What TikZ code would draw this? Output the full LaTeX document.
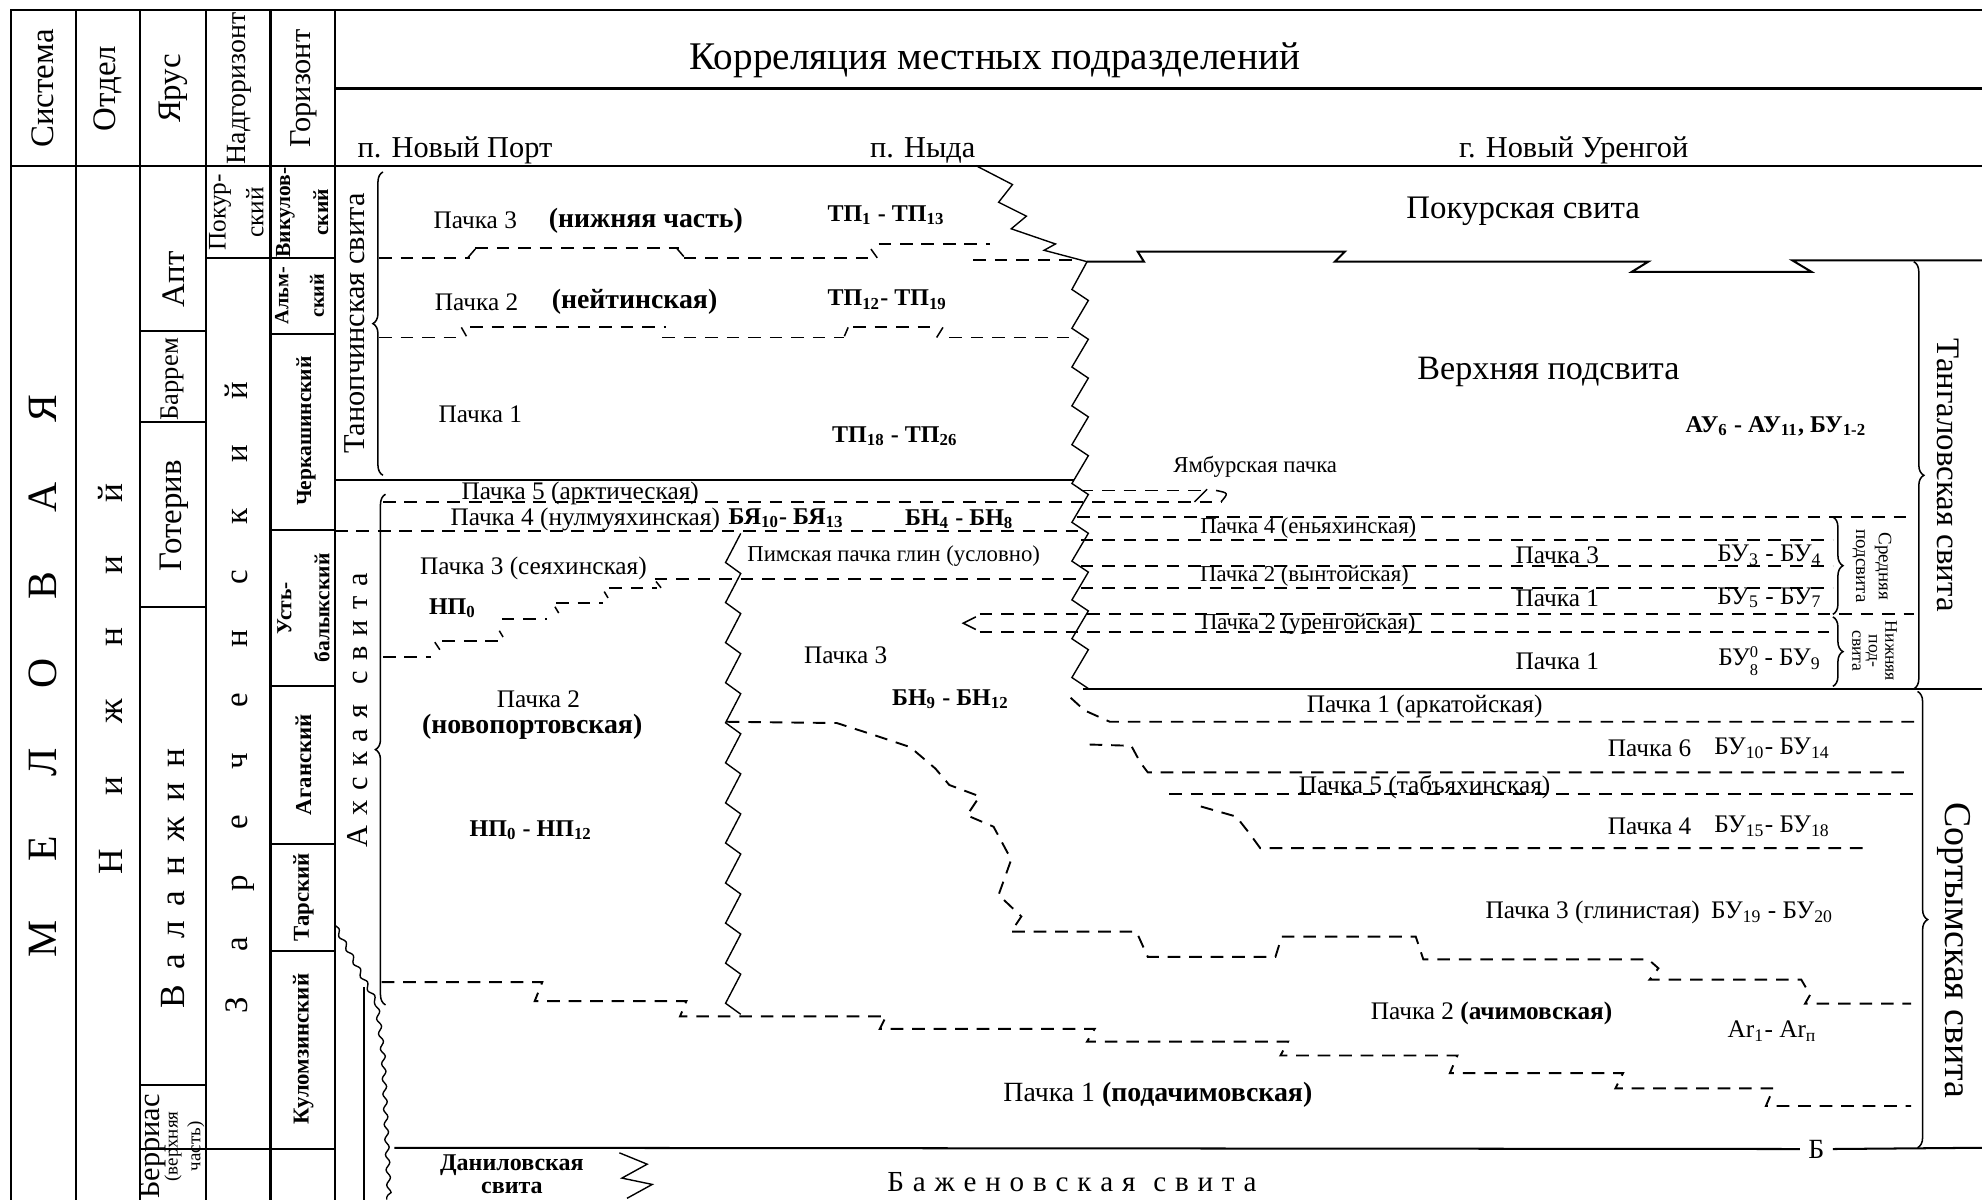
\documentclass[tikz,border=0pt]{standalone}
\usepackage{fontspec}
\setmainfont{Liberation Serif}
\usetikzlibrary{decorations.pathreplacing, decorations.pathmorphing}
\newcommand{\fsz}[2]{\fontsize{#1}{#2}\selectfont}
\newcommand{\lspace}[1]{\spaceskip=#1\relax}
\tikzset{
    chart/.style={x=0.5pt, y=-0.5pt, line width=0.7pt},
    rule/.style={line width=0.8pt},
    bound/.style={dash pattern=on 5pt off 3.5pt, line width=0.75pt},
    saw/.style={line width=0.55pt, line join=miter},
    hook/.style={line width=0.6pt},
    brc/.style={decorate, decoration={brace, amplitude=4pt}, line width=0.6pt},
    up/.style={rotate=90, inner sep=0pt, align=center},
    down/.style={rotate=-90, inner sep=0pt, align=center},
    pk/.style={inner sep=0pt, font=\fsz{10}{11}},
    pks/.style={inner sep=0pt, font=\fsz{9}{10}},
    pkb/.style={inner sep=0pt, font=\fsz{11}{12}\bfseries},
    idx/.style={inner sep=0pt, font=\fsz{9.5}{10}\bfseries},
    bu/.style={inner sep=0pt, font=\fsz{10}{11}},
}

\begin{document}
\begin{tikzpicture}[chart]
    \useasboundingbox (0,0) rectangle (1568,949);

    % frame and stratigraphic columns
    \draw[rule] (9,949) -- (9,8) -- (1568,8);
    \draw[rule] (265,70) -- (1568,70);
    \draw[rule] (9,131) -- (1568,131);
    \foreach \x in {60,111,163,214,265} \draw[rule] (\x,8) -- (\x,949);
    \foreach \y in {262,334,480,858,909} \draw[rule] (111,\y) -- (163,\y);
    \foreach \y in {204,909} \draw[rule] (163,\y) -- (214,\y);
    \foreach \y in {204,264,419,543,668,752,909} \draw[rule] (214,\y) -- (265,\y);

    % header
    \node[up, font=\fsz{13}{14}] (sys)  at (34,70)  {Система};
    \node[up, font=\fsz{13}{14}] (otd)  at (85,70)  {Отдел};
    \node[up, font=\fsz{13}{14}] (yar)  at (137,70) {Ярус};
    \node[up, font=\fsz{11}{12}] (nadg) at (189,70) {Надгоризонт};
    \node[up, font=\fsz{12}{13}] (gor)  at (240,70) {Горизонт};
    \node[font=\fsz{15.5}{16}] (corr)  at (787,48)  {Корреляция местных подразделений};
    \node[font=\fsz{12}{13}]   (nport) at (360,119) {п. Новый Порт};
    \node[font=\fsz{12}{13}]   (nyda)  at (730,119) {п. Ныда};
    \node[font=\fsz{12}{13}]   (nur)   at (1245,119) {г. Новый Уренгой};

    % system, series, stages, horizons
    \node[up, font={\fsz{16.5}{17}\lspace{23.5pt}}] (mel)  at (34,535)  {М Е Л О В А Я};
    \node[up, font={\fsz{14}{15}\lspace{21pt}}]     (nizh) at (87,537)  {Н и ж н и й};
    \node[up, font={\fsz{14}{15}\lspace{6pt}}]      (val)  at (137,695) {В а л а н ж и н};
    \node[up, font={\fsz{13}{14}\lspace{18pt}}]     (zar)  at (190,552) {З а р е ч е н с к и й};
    \node[up, font=\fsz{13}{14}]   (apt)  at (137,221) {Апт};
    \node[up, font=\fsz{10.5}{11}] (bar)  at (136,300) {Баррем};
    \node[up, font=\fsz{13}{14}]   (got)  at (138,408) {Готерив};
    \node[up, font=\fsz{12}{13}]   (ber)  at (121,907) {Берриас};
    \node[up, font=\fsz{7.5}{9}]   (berv) at (146,907) {(верхняя\\часть)};
    \node[up, font=\fsz{10}{15}]   (pokh) at (187,168) {Покур-\\ский};
    \node[up, font=\fsz{8.5}{15}\bfseries] (vik)   at (239,168) {Викулов-\\ский};
    \node[up, font=\fsz{8}{14}\bfseries]   (alm)   at (237,234) {Альм-\\ский};
    \node[up, font=\fsz{8.5}{10}\bfseries] (cherk) at (242,341) {Черкашинский};
    \node[up, font=\fsz{8.5}{15}\bfseries] (ust)   at (240,481) {Усть-\\балыкский};
    \node[up, font=\fsz{9}{10}\bfseries]   (agan)  at (240,605) {Аганский};
    \node[up, font=\fsz{9}{10}\bfseries]   (tar)   at (240,710) {Тарский};
    \node[up, font=\fsz{9}{10}\bfseries]   (kul)   at (240,830) {Куломзинский};

    % suites of Novy Port
    \node[up, font=\fsz{12}{13}] (tanop) at (281,256) {Танопчинская свита};
    \draw[brc] (303,376) -- (303,136);
    \node[up, font={\fsz{12}{13}\lspace{4pt}}] (akh) at (283,562) {А х с к а я\ \ с в и т а};
    \draw[brc] (305,795) -- (305,391);
    \draw[saw, decorate, decoration={snake, amplitude=0.8pt, segment length=6pt}]
        (265,732) -- (296,790) -- (301,830) -- (306,949);
    \draw[rule] (288,781) -- (288,949);

    % solid boundaries
    \draw[rule] (265,380) -- (850,380);
    \draw[rule] (860,207) -- (905,207) -- (900,199) -- (1064,199) -- (1056,207) -- (1304,207)
        -- (1291,215) -- (1433,215) -- (1418,206) -- (1568,206);
    \draw[rule] (857,545) -- (1568,545);
    \node[font=\fsz{11}{12}, inner sep=3pt] (bmark) at (1437,909) {Б};
    \draw[rule] (312,908) -- (bmark.west);
    \draw[rule] (bmark.east) -- (1568,908);

    % facies boundaries
    \draw[saw] (586,422) \foreach \k in {0,...,11} { -- (574,{422+31.7*\k+23}) -- (586,{422+31.7*(\k+1)}) };
    \draw[saw] (772,131) -- (801,146) -- (790,160) -- (812,171) -- (800,181) -- (835,193) -- (826,198) -- (860,207)
        \foreach \k in {0,...,10} { -- (848,{207+30.7*\k+22}) -- (861,{207+30.7*(\k+1)}) };
    \draw[saw] (490,912) -- (512,921) -- (492,932) -- (516,937) -- (496,948);

    % Tanopchinskaya packs
    \draw[bound] (300,204) -- (372,204);
    \draw[hook] (370,204) -- (376,197);
    \draw[bound] (376,196) -- (537,196);
    \draw[hook] (535,196) -- (541,203);
    \draw[bound] (541,204) -- (690,204);
    \draw[hook] (689,197) -- (694,204);
    \draw[bound] (695,193) -- (783,193);
    \draw[bound] (770,206) -- (853,206);
    \draw[bound] (300,267) -- (364,267);
    \draw[hook] (365,259) -- (369,266);
    \draw[bound] (372,259) -- (527,259);
    \draw[bound] (524,267) -- (668,267);
    \draw[hook] (668,266) -- (671,259);
    \draw[bound] (675,259) -- (740,259);
    \draw[hook] (741,267) -- (746,259);
    \draw[bound] (751,267) -- (853,267);

    \node[pk]  (tp3)  at (376,174) {Пачка 3};
    \node[pkb] (tp3n) at (511,175) {(нижняя часть)};
    \node[idx] (tp3i) at (701,170) {ТП\textsubscript{1} - ТП\textsubscript{13}};
    \node[pk]  (tp2)  at (377,239) {Пачка 2};
    \node[pkb] (tp2n) at (502,239) {(нейтинская)};
    \node[idx] (tp2i) at (702,237) {ТП\textsubscript{12}- ТП\textsubscript{19}};
    \node[pk]  (tp1)  at (380,328) {Пачка 1};
    \node[idx] (tp1i) at (708,345) {ТП\textsubscript{18} - ТП\textsubscript{26}};

    % Akhskaya packs
    \draw[bound] (303,397) -- (967,397);
    \draw[bound] (855,388) -- (950,388);
    \draw[hook] (945,397) -- (955,387);
    \draw[hook] (962,388) .. controls (972,390) .. (966,397);
    \draw[bound] (265,420) -- (855,420);
    \draw[bound] (518,458) -- (853,458);
    \draw[bound] (303,520) -- (341,520);
    \draw[bound] (350,507) -- (394,507);
    \draw[bound] (397,490) -- (433,490);
    \draw[bound] (440,477) -- (477,477);
    \draw[bound] (482,465) -- (520,465);
    \draw[hook] (344,508) -- (348,514);
    \draw[hook] (395,499) -- (398,504);
    \draw[hook] (439,480) -- (442,485);
    \draw[hook] (478,468) -- (481,473);
    \draw[hook] (519,460) -- (523,465);
    \draw[hook] (772,488) -- (762,493) -- (772,498);

    \node[pk]  (ap5)  at (459,390) {Пачка 5 (арктическая)};
    \node[pk]  (ap4)  at (463,411) {Пачка 4 (нулмуяхинская)};
    \node[idx] (byai) at (622,410) {БЯ\textsubscript{10}- БЯ\textsubscript{13}};
    \node[idx] (bn4i) at (759,411) {БН\textsubscript{4} - БН\textsubscript{8}};
    \node[pks] (pim)  at (707,440) {Пимская пачка глин (условно)};
    \node[pk]  (ap3)  at (422,450) {Пачка 3 (сеяхинская)};
    \node[idx] (np0)  at (358,481) {НП\textsubscript{0}};
    \node[pk]  (ap2)  at (426,553) {Пачка 2};
    \node[pkb] (ap2n) at (421,575) {(новопортовская)};
    \node[idx] (npi)  at (420,657) {НП\textsubscript{0} - НП\textsubscript{12}};
    \node[pk]  (ny3)  at (669,518) {Пачка 3};
    \node[idx] (bn9i) at (752,553) {БН\textsubscript{9} - БН\textsubscript{12}};

    % Tangalovskaya packs
    \draw[bound] (852,409) -- (1514,409);
    \foreach \y in {427,448,465} \draw[bound] (855,\y) -- (1450,\y);
    \draw[bound] (775,486) -- (1514,486);
    \draw[bound] (775,500) -- (1447,500);

    \node[font=\fsz{13}{14}]   (pokur) at (1205,167) {Покурская свита};
    \node[font=\fsz{13.5}{14}] (verkh) at (1225,294) {Верхняя подсвита};
    \node[idx] (aui)  at (1405,337) {АУ\textsubscript{6} - АУ\textsubscript{11}, БУ\textsubscript{1-2}};
    \node[pks] (yamb) at (993,369)  {Ямбурская пачка};
    \node[pks] (u4)   at (1035,418) {Пачка 4 (еньяхинская)};
    \node[pk]  (u3)   at (1232,439) {Пачка 3};
    \node[bu]  (u3i)  at (1400,439) {БУ\textsubscript{3} - БУ\textsubscript{4}};
    \node[pks] (u2)   at (1032,456) {Пачка 2 (вынтойская)};
    \node[pk]  (u1)   at (1232,473) {Пачка 1};
    \node[bu]  (u1i)  at (1400,473) {БУ\textsubscript{5} - БУ\textsubscript{7}};
    \node[pks] (u2l)  at (1035,494) {Пачка 2 (уренгойская)};
    \node[pk]  (u1l)  at (1232,523) {Пачка 1};
    \node[bu]  (u1li) at (1400,523) {БУ\raisebox{-0.9ex}{\fsz{6.5}{6.5}\shortstack{0\\8}} - БУ\textsubscript{9}};

    \draw[brc] (1514,207) -- (1514,545);
    \node[down, font=\fsz{13}{14}] (tang) at (1541,376) {Тангаловская свита};
    \draw[brc] (1450,409) -- (1450,486);
    \node[down, font=\fsz{7.5}{9}] (mid) at (1481,448) {Средняя\\подсвита};
    \draw[brc] (1450,488) -- (1450,543);
    \node[down, font=\fsz{7}{6.5}] (low) at (1483,515) {Нижняя\\под-\\свита};

    % Sortymskaya packs
    \draw[bound] (847,552) -- (858,562) -- (878,571) -- (1517,571);
    \draw[bound] (862,589) -- (895,590) -- (902,603) -- (908,611) -- (1508,611);
    \draw[bound] (925,628) -- (1516,628);
    \draw[bound] (950,638) -- (978,646) -- (989,660) -- (997,671) -- (1480,671);
    \draw[bound] (575,571) -- (662,572) -- (690,581) -- (720,591) -- (740,608) -- (751,621) -- (775,630)
        -- (765,645) -- (786,654) -- (800,680) -- (790,708) -- (808,725) -- (800,737) -- (899,737)
        -- (908,757) -- (1009,757) -- (1014,741) -- (1120,741) -- (1126,759) -- (1304,759)
        -- (1312,766) -- (1305,775) -- (1425,775) -- (1432,787) -- (1428,794) -- (1512,794);
    \draw[bound] (302,777) -- (429,777) -- (423,792) -- (543,792) -- (538,804) -- (701,804) -- (696,814)
        -- (866,814) -- (860,824) -- (1019,824) -- (1013,835) -- (1153,835) -- (1147,849) -- (1284,849)
        -- (1278,861) -- (1403,861) -- (1397,875) -- (1512,875);

    \node[pk] (s1)  at (1127,559) {Пачка 1 (аркатойская)};
    \node[pk] (s6)  at (1305,592) {Пачка 6};
    \node[bu] (s6i) at (1402,592) {БУ\textsubscript{10}- БУ\textsubscript{14}};
    \node[pk] (s5)  at (1127,623) {Пачка 5 (табъяхинская)};
    \node[pk] (s4)  at (1305,654) {Пачка 4};
    \node[bu] (s4i) at (1402,654) {БУ\textsubscript{15}- БУ\textsubscript{18}};
    \node[pk] (s3)  at (1260,722) {Пачка 3 (глинистая)};
    \node[bu] (s3i) at (1402,722) {БУ\textsubscript{19} - БУ\textsubscript{20}};
    \node[pk] (s2)  at (1180,802) {Пачка 2 \textbf{(ачимовская)}};
    \node[bu] (s2i) at (1402,816) {Ar\textsubscript{1}- Ar\textsubscript{п}};
    \node[pk, font=\fsz{11}{12}] (s0) at (916,866) {Пачка 1 \textbf{(подачимовская)}};

    \draw[brc] (1517,547) -- (1517,908);
    \node[down, font=\fsz{15}{16}] (sort) at (1546,752) {Сортымская свита};

    % underlying suites
    \node[font={\fsz{11.5}{12}\lspace{3.5pt}}] (bazh) at (848,935) {Б а ж е н о в с к а я\ \ с в и т а};
    \node[font=\fsz{9.5}{9}\bfseries, align=center, inner sep=0pt] (dan) at (405,929) {Даниловская\\свита};
\end{tikzpicture}
\end{document}
